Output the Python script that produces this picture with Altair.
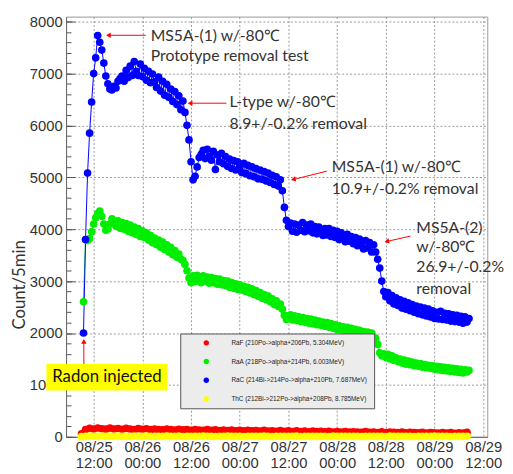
import json
import pandas as pd
import altair as alt

# ---------------- data (hours counted from 08/25 00:00) ----------------
T0_MAIN = 9.5   # first 30-min sample of RaA / RaC
DT_MAIN = 0.5
T0_LOW = 9.0    # first hourly sample of RaF / ThC
DT_LOW = 1.0

rac_counts = [
    2000, 3800, 5080, 5850, 6450, 7000, 7300, 7730, 7600, 7450,
    7200, 6950, 6800, 6700, 6680, 6750, 6720, 6850, 6900, 6950,
    6850, 7060, 6920, 7140, 6960, 7230, 7040, 6960, 7180, 6940,
    7100, 6870, 7040, 6820, 6990, 6840, 6730, 6930, 6660, 6850,
    6580, 6790, 6540, 6700, 6460, 6650, 6400, 6570, 6300, 6470,
    6250, 6000, 5720, 5300, 4950, 5020, 5200, 5380, 5440, 5520,
    5360, 5540, 5400, 5330, 5500, 5150, 5430, 5300, 5460, 5260,
    5400, 5210, 5350, 5170, 5320, 5140, 5300, 5190, 5090, 5270,
    5070, 5230, 5030, 5200, 5010, 5170, 4970, 5140, 4960, 5110,
    4930, 5080, 4900, 5040, 4860, 5010, 4830, 4950, 4740, 4420,
    4170, 4050, 4120, 3960, 4100, 3940, 4080, 3980, 4130, 3950,
    4080, 3970, 4100, 3930, 4050, 3910, 4040, 3940, 3880, 4010,
    3890, 4010, 3860, 3980, 3840, 3960, 3800, 3930, 3830, 3760,
    3900, 3770, 3860, 3720, 3840, 3680, 3810, 3690, 3620, 3780,
    3640, 3740, 3560, 3700, 3560, 3420, 3250, 3000, 2800, 2700,
    2780, 2620, 2720, 2560, 2680, 2530, 2640, 2480, 2610, 2460,
    2580, 2430, 2550, 2400, 2520, 2370, 2500, 2350, 2480, 2330,
    2460, 2310, 2430, 2280, 2400, 2270, 2420, 2260, 2380, 2250,
    2370, 2230, 2350, 2220, 2340, 2210, 2320, 2190, 2310, 2210,
    2280,
]

raa_counts = [
    2600, 3800, 3780, 3820, 3950, 4100, 4220, 4300, 4350, 4250,
    4100, 3980, 4000, 4100, 4200, 4130, 4060, 4160, 4020, 4130,
    4000, 4110, 3960, 4080, 3930, 4040, 3900, 4010, 3860, 3970,
    3840, 3930, 3790, 3880, 3740, 3830, 3700, 3790, 3650, 3750,
    3610, 3700, 3560, 3650, 3510, 3590, 3460, 3520, 3420, 3400,
    3320, 3200, 3060, 2970, 3100, 2990, 3110, 3010, 2970, 3100,
    3000, 3080, 2960, 3070, 2970, 3050, 2940, 3040, 2930, 3010,
    2910, 3000, 2880, 2970, 2860, 2950, 2840, 2930, 2830, 2900,
    2800, 2880, 2770, 2850, 2740, 2820, 2710, 2780, 2670, 2740,
    2640, 2710, 2600, 2660, 2550, 2620, 2510, 2560, 2460, 2340,
    2260, 2330, 2350, 2250, 2330, 2240, 2310, 2220, 2300, 2210,
    2280, 2190, 2270, 2180, 2250, 2160, 2230, 2150, 2210, 2130,
    2200, 2110, 2180, 2090, 2160, 2070, 2140, 2060, 2120, 2040,
    2110, 2020, 2090, 2000, 2070, 1990, 2050, 1970, 2030, 1960,
    2020, 1940, 2000, 1920, 1900, 1780, 1620, 1560, 1600, 1530,
    1590, 1500, 1560, 1470, 1520, 1450, 1500, 1420, 1480, 1400,
    1460, 1390, 1440, 1370, 1420, 1360, 1410, 1340, 1390, 1330,
    1380, 1320, 1370, 1300, 1360, 1290, 1350, 1280, 1340, 1270,
    1330, 1260, 1320, 1250, 1310, 1240, 1300, 1230, 1290, 1250,
    1280,
]

raf_counts = [
    60, 140, 165, 150, 170, 155, 148, 168, 152, 160,
    145, 162, 150, 140, 158, 146, 155, 138, 150, 142,
    136, 152, 140, 130, 146, 134, 142, 128, 140, 132,
    124, 138, 126, 134, 120, 130, 122, 132, 118, 126,
    114, 128, 116, 122, 110, 124, 112, 118, 106, 120,
    108, 114, 102, 116, 104, 110, 98, 112, 100, 106,
    96, 108, 94, 102, 92, 104, 90, 98, 94, 86,
    100, 88, 94, 84, 96, 82, 90, 86, 80, 92,
    78, 88, 80, 76, 86, 74, 82, 78, 72, 84,
    74, 80, 70, 78, 72, 86,
]

thc_counts = [
    3, 10, 14, 9, 12, 16, 8, 13, 10, 15,
    9, 12, 7, 14, 11, 8, 13, 10, 6, 12,
    9, 14, 8, 11, 13, 7, 10, 12, 8, 11,
    14, 9, 10, 7, 12, 9, 13, 8, 11, 10,
    7, 12, 9, 11, 8, 13, 10, 6, 11, 9,
    12, 8, 10, 13, 7, 11, 9, 12, 8, 10,
    11, 7, 13, 9, 10, 8, 12, 9, 11, 7,
    10, 12, 8, 9, 11, 7, 13, 10, 8, 11,
    9, 12, 7, 10, 8, 11, 9, 13, 8, 10,
    11, 7, 9, 12, 8, 10,
]

series_names = [
    "RaF (210Po->alpha+206Pb, 5.304MeV)",
    "RaA (218Po->alpha+214Pb, 6.003MeV)",
    "RaC (214Bi->214Po->alpha+210Pb, 7.687MeV)",
    "ThC (212Bi->212Po->alpha+208Pb, 8.785MeV)",
]
series_colors = ["#ff0000", "#00ee00", "#0000ff", "#ffff00"]

tick_hours = [12, 24, 36, 48, 60, 72, 84, 96, 108]
tick_labels = ["08/25|12:00", "08/26|00:00", "08/26|12:00", "08/27|00:00",
               "08/27|12:00", "08/28|00:00", "08/28|12:00", "08/29|00:00",
               "08/29|12:00"]
y_major = list(range(0, 8001, 1000))
y_minor = list(range(0, 8001, 200))

# annotations (text, hour, count)
note_text = ["MS5A-(1) w/-80℃", "Prototype removal test",
             "L-type w/-80℃", "8.9+/-0.2% removal",
             "MS5A-(1) w/-80℃", "10.9+/-0.2% removal",
             "MS5A-(2)", "w/-80℃", "26.9+/-0.2%", "removal"]
note_hour = [26.06, 26.06, 45.45, 45.45, 70.67, 70.67, 91.5, 91.5, 91.5, 91.5]
note_count = [7716, 7336, 6445, 6028, 5194, 4777, 4019, 3659, 3261, 2844]

# arrows: start -> head
arrow_h1 = [24.85, 44.73, 69.45, 90.06, 9.58]
arrow_c1 = [7735, 6427, 5118, 3867, 1403]
arrow_h2 = [15.64, 35.76, 61.2, 84.24, 9.58]
arrow_c2 = [7735, 6427, 4957, 3763, 1839]
arrow_shape = ["triangle-left", "triangle-left", "triangle-left", "triangle-left", "triangle-up"]
arrow_angle = [0, 0, 346, 347, 0]

# ---------------- frames ----------------
def frame(name, counts, t0, dt):
    return pd.DataFrame({"hour": [t0 + i * dt for i in range(len(counts))],
                         "count": counts, "series": name})

raf_df = frame(series_names[0], raf_counts, T0_LOW, DT_LOW)
raa_df = frame(series_names[1], raa_counts, T0_MAIN, DT_MAIN)
rac_df = frame(series_names[2], rac_counts, T0_MAIN, DT_MAIN)
thc_df = frame(series_names[3], thc_counts, T0_LOW, DT_LOW)
points_df = pd.concat([raf_df, raa_df, rac_df, thc_df], ignore_index=True)

notes_df = pd.DataFrame({"text": note_text, "hour": note_hour, "count": note_count})
arrows_df = pd.DataFrame({"hour": arrow_h1, "count": arrow_c1,
                          "hour2": arrow_h2, "count2": arrow_c2,
                          "shape": arrow_shape, "angle": arrow_angle})
radon_df = pd.DataFrame({"hour": [0.36], "hour2": [30.18], "count": [1403],
                         "count2": [891], "xc": [15.27], "yc": [1147],
                         "text": ["Radon injected"]})

# ---------------- scales & axes ----------------
xs = alt.Scale(domain=[5.2, 109], nice=False, zero=False)
ys = alt.Scale(domain=[0, 8095], nice=False, zero=False)

label_expr = f"split({json.dumps(tick_labels)}[round((datum.value - 12) / 12)], '|')"
x_axis = alt.Axis(values=tick_hours, labelExpr=label_expr, grid=True,
                  gridDash=[2, 2], gridColor="#999999", ticks=False,
                  labelFontSize=15, labelFont="Liberation Sans", labelColor="#333333",
                  labelLineHeight=16, labelPadding=3, domainColor="#666666",
                  title=None, labelFlush=False, labelOverlap=False)
y_axis = alt.Axis(orient="left", values=y_major, format="d", grid=True,
                  gridDash=[2, 2], gridColor="#999999",
                  ticks=False, labelFontSize=15, labelFont="Liberation Sans",
                  labelColor="#333333", labelPadding=4, domainColor="#666666",
                  title="Count/5min", titleFont="Lato", titleFontSize=17,
                  titleFontWeight="normal", titleColor="#333333",
                  titleX=-47, titleY=272, titleAlign="center", titleBaseline="middle")
y_major_ticks = alt.Axis(orient="left", offset=-9, values=y_major, tickSize=9,
                         labels=False, domain=False, grid=False, title=None,
                         tickColor="#555555")
y_minor_ticks = alt.Axis(orient="left", offset=-5, values=y_minor, tickSize=5,
                         labels=False, domain=False, grid=False, title=None,
                         tickColor="#555555")

X = alt.X("hour:Q", scale=xs, axis=x_axis)

green_line = alt.Chart(raa_df).mark_line(color="#00ee00", strokeWidth=1).encode(
    x=X, y=alt.Y("count:Q", scale=ys, axis=y_minor_ticks))
blue_line = alt.Chart(rac_df).mark_line(color="#0000ff", strokeWidth=1).encode(
    x=X, y=alt.Y("count:Q", scale=ys, axis=y_major_ticks))

points = alt.Chart(points_df).mark_circle(size=60, opacity=1).encode(
    x=X, y=alt.Y("count:Q", scale=ys, axis=y_axis),
    color=alt.Color("series:N", scale=alt.Scale(domain=series_names, range=series_colors),
                    legend=alt.Legend(title=None)))

arrow_lines = alt.Chart(arrows_df).mark_rule(color="#ff0000", strokeWidth=1).encode(
    x=X, x2="hour2:Q", y=alt.Y("count:Q", scale=ys, axis=None), y2="count2:Q")
arrow_heads = alt.Chart(arrows_df).mark_point(filled=True, color="#ff0000", size=30,
                                               opacity=1).encode(
    x=alt.X("hour2:Q", scale=xs, axis=x_axis),
    y=alt.Y("count2:Q", scale=ys, axis=None),
    shape=alt.Shape("shape:N", scale=None),
    angle=alt.Angle("angle:Q", scale=None))

radon_box = alt.Chart(radon_df).mark_rect(color="#ffff00", opacity=1).encode(
    x=X, x2="hour2:Q", y=alt.Y("count:Q", scale=ys, axis=None), y2="count2:Q")
radon_text = alt.Chart(radon_df).mark_text(font="Lato", fontSize=17, color="#111111",
                                            align="center", baseline="middle").encode(
    x=alt.X("xc:Q", scale=xs, axis=x_axis),
    y=alt.Y("yc:Q", scale=ys, axis=None), text="text:N")

notes = alt.Chart(notes_df).mark_text(font="Lato", fontSize=16, color="#333333",
                                       align="left", baseline="middle").encode(
    x=X, y=alt.Y("count:Q", scale=ys, axis=None), text="text:N")

chart = alt.layer(green_line, blue_line, points, arrow_lines, arrow_heads,
                  radon_box, radon_text, notes).resolve_axis(y="independent").properties(
    width=428, height=427,
    autosize=alt.AutoSizeParams(type="none"),
    padding={"left": 59, "top": 5, "right": 18, "bottom": 33},
).configure_view(stroke="#999999").configure_legend(
    orient="none", legendX=116, legendY=322, fillColor="#ececec",
    strokeColor="#555555", padding=6, rowPadding=12, labelFontSize=6.5,
    labelFont="Liberation Sans", labelColor="#222222", symbolSize=30,
    symbolOffset=17, labelOffset=22, symbolType="circle")

chart.save("out.html", embed_options={"renderer": "svg", "actions": False})
